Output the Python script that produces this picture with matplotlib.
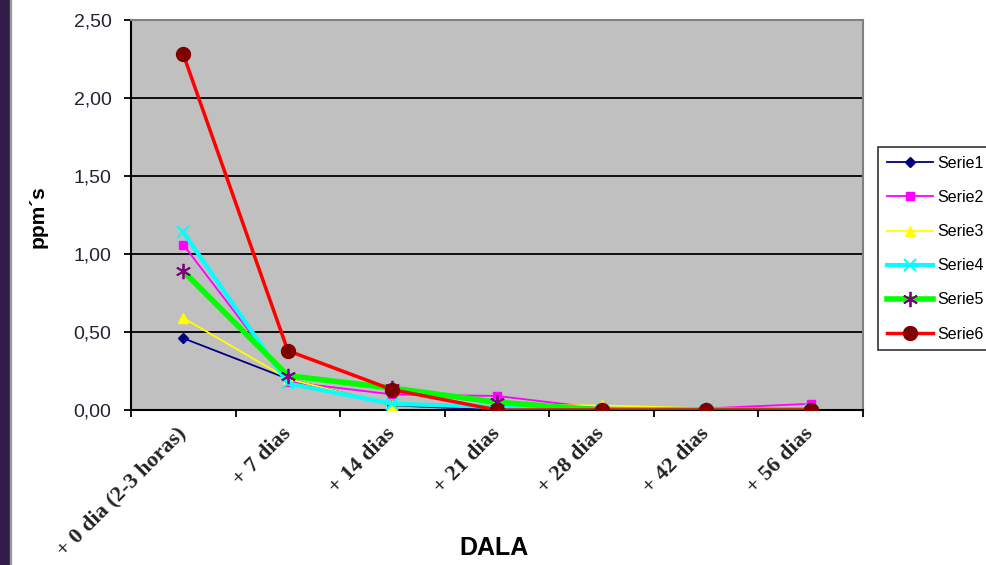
import numpy as np
import matplotlib.pyplot as plt
from matplotlib.patches import Rectangle
from matplotlib.ticker import FixedLocator, FuncFormatter
from matplotlib.transforms import ScaledTranslation

categorias = ['+ 0 dia (2-3 horas)', '+ 7 dias', '+ 14 dias', '+ 21 dias',
              '+ 28 dias', '+ 42 dias', '+ 56 dias']
serie1 = [0.46, 0.20, 0.03, 0.00, 0.00, 0.00, 0.00]
serie2 = [1.06, 0.18, 0.10, 0.09, 0.01, 0.01, 0.04]
serie3 = [0.59, 0.20, 0.03, 0.03, 0.03, 0.01, 0.00]
serie4 = [1.14, 0.17, 0.04, 0.02, 0.00, 0.00, 0.00]
serie5 = [0.89, 0.22, 0.14, 0.05, 0.00, 0.00, 0.00]
serie6 = [2.28, 0.38, 0.13, 0.00, 0.00, 0.00, 0.00]

fig = plt.figure(figsize=(9.87, 5.65), dpi=100)
# franja morada a la izquierda
fig.patches.append(Rectangle((0, 0), 10/987, 1, transform=fig.transFigure,
                             color='#2f1d47', zorder=0))
fig.patches.append(Rectangle((10/987, 0), 1.5/987, 1, transform=fig.transFigure,
                             color='#9a9a9a', zorder=0))

ax = fig.add_axes([131/987, 1 - 410/565, 732/987, 390/565])
ax.set_facecolor('#c0c0c0')
x = np.arange(len(categorias))

ax.plot(x, serie1, color='#000080', lw=1.3, marker='D', ms=5, label='Serie1', zorder=3)
ax.plot(x, serie2, color='#ff00ff', lw=1.3, marker='s', ms=6, label='Serie2', zorder=3)
ax.plot(x, serie3, color='#ffff00', lw=1.3, marker='^', ms=7, label='Serie3', zorder=3)
ax.plot(x, serie4, color='#00ffff', lw=3, marker='x', ms=9, mew=1.5, label='Serie4', zorder=3)
ax.plot(x, serie5, color='#00ff00', lw=4, marker=(6, 2, 0), ms=11, mew=1.3,
        mec='#800080', label='Serie5', zorder=4)
ax.plot(x, serie6, color='#ff0000', lw=2.5, marker='o', ms=10, mfc='#800000',
        mec='#800000', label='Serie6', zorder=5)

ax.set_xlim(-0.5, len(categorias) - 0.5)
ax.set_ylim(0, 2.5)
ax.set_yticks(np.arange(0, 2.51, 0.5))
ax.yaxis.set_major_formatter(FuncFormatter(lambda v, p: f'{v:.2f}'.replace('.', ',')))
ax.grid(axis='y', color='black', lw=1.3)
ax.set_axisbelow(True)

ax.set_xticks(x)
ax.set_xticklabels(categorias, rotation=45, ha='right', va='center',
                   rotation_mode='anchor', family='Liberation Serif',
                   fontweight='bold', fontsize=16, color='#222222')
shift = ScaledTranslation(-0.06, 0, fig.dpi_scale_trans)
for lab in ax.get_xticklabels():
    lab.set_transform(lab.get_transform() + shift)
ax.xaxis.set_minor_locator(FixedLocator(np.arange(-0.5, len(categorias), 1)))
ax.tick_params(axis='x', which='major', length=0, pad=15)
ax.tick_params(axis='x', which='minor', length=5, width=1.3, direction='out')
ax.tick_params(axis='y', length=5, width=1.3, direction='out', labelsize=14,
               labelcolor='#222233', pad=9)
for lab in ax.get_yticklabels():
    lab.set_family('Liberation Sans')

for side in ['top', 'right']:
    ax.spines[side].set_color('#808080')
    ax.spines[side].set_linewidth(1.5)
ax.spines['left'].set_linewidth(1.5)
ax.spines['bottom'].set_linewidth(1.5)

fig.text(38/987, 1 - 217/565, 'ppm´s', fontsize=15, fontweight='bold',
         family='Liberation Sans', rotation=90, ha='center', va='center')
fig.text(494/987, 1 - 548/565, 'DALA', fontsize=18, fontweight='bold',
         family='Liberation Sans', ha='center', va='center')

leg = fig.legend(loc='upper left', bbox_to_anchor=(878/987, 1 - 147/565),
                 frameon=True, fancybox=False, edgecolor='black', fontsize=11.5,
                 labelspacing=1.2, handlelength=2.9, handletextpad=0.25,
                 borderpad=0.55, borderaxespad=0)
leg.get_frame().set_linewidth(1.2)
for t in leg.get_texts():
    t.set_family('Liberation Sans')

fig.savefig('out.png', dpi=100)
